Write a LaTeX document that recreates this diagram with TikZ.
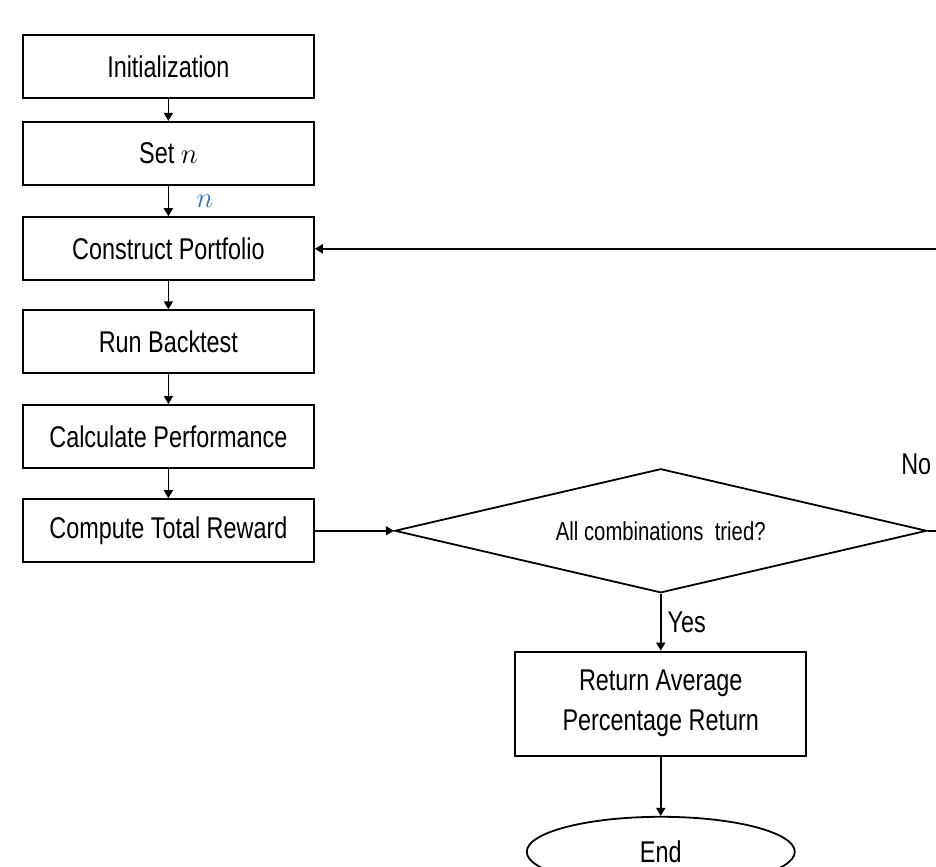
\documentclass[tikz,border=0pt]{standalone}
\usepackage{fontspec}
\setmainfont{Liberation Sans}[FakeStretch=0.78]
\usetikzlibrary{arrows.meta, positioning, shapes.geometric, calc}
\usepackage{xcolor}
\definecolor{VarBlue}{HTML}{3D6FAA}

\begin{document}
\begin{tikzpicture}[
    proc/.style={
        draw, line width=1pt, minimum width=5.11cm, minimum height=1.11cm,
        align=center, font=\fontsize{15}{20}\selectfont
    },
    decision/.style={
        diamond, draw, line width=0.9pt, aspect=4.3, inner sep=0pt,
        minimum width=9.35cm, minimum height=2.18cm,
        font=\fontsize{13}{16}\selectfont
    },
    terminal/.style={
        ellipse, draw, line width=0.9pt, minimum width=4.71cm,
        minimum height=1.23cm, font=\fontsize{15}{18}\selectfont
    },
    arr/.style={-{Triangle[length=4pt, width=4.5pt]}, line width=0.8pt},
    lbl/.style={font=\fontsize{15}{18}\selectfont, inner sep=1pt}
]

% =============================================
% LEFT COLUMN: the steps
% =============================================
\node[proc] (init) {Initialization};
\node[proc, below=0.38cm of init] (setn) {Set $n$};
\node[proc, below=0.53cm of setn] (construct) {Construct Portfolio};
\node[proc, below=0.49cm of construct] (backtest) {Run Backtest};
\node[proc, below=0.52cm of backtest] (perf) {Calculate Performance};
\node[proc, below=0.51cm of perf] (reward) {Compute Total Reward};

\useasboundingbox ($(init.north west)+(-0.387,0.6)$) rectangle ++(16.45,-15.22);

\draw[arr] (init) -- (setn);
\draw[arr] (setn) -- (construct)
    node[midway, right=0.36cm, text=VarBlue, font=\fontsize{14}{16}\selectfont] {$n$};
\draw[arr] (construct) -- (backtest);
\draw[arr] (backtest) -- (perf);
\draw[arr] (perf) -- (reward);

% =============================================
% RIGHT: check, then result and end
% =============================================
\node[decision, right=1.39cm of reward] (check) {All combinations\ \ tried?};
\draw[arr] (reward.east) -- (check.west);

% No -> back to Construct Portfolio
\draw[arr] (check.east) -- ++(1.0,0) |- (construct.east);
\node[lbl] at ([xshift=-0.2cm, yshift=1.16cm]check.east) {No};

\node[proc, below=1.0cm of check, minimum height=1.83cm] (result) {Return Average\\Percentage Return};
\draw[arr] (check.south) -- (result.north)
    node[lbl, midway, right=2pt] {Yes};

\node[terminal, below=1.04cm of result] (end) {End};
\draw[arr] (result.south) -- (end.north);

\end{tikzpicture}
\end{document}
